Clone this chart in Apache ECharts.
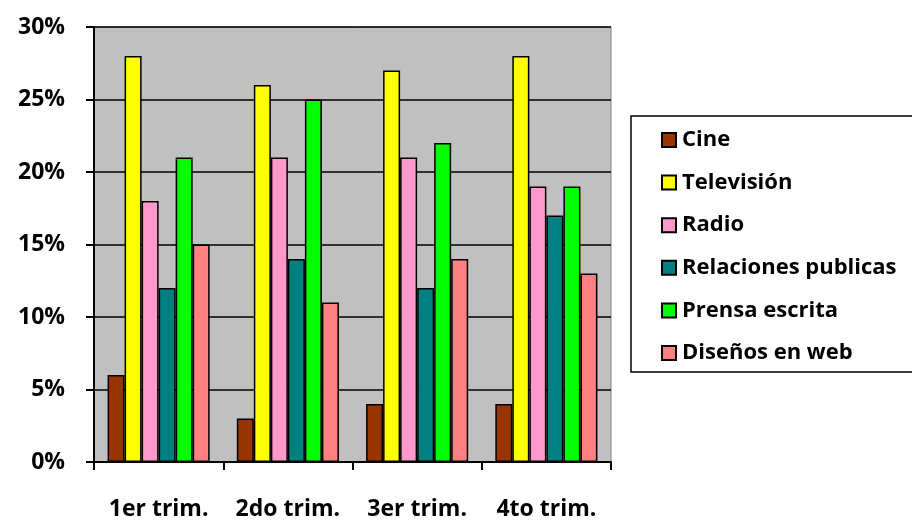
<!DOCTYPE html>
<html>
<head>
<meta charset="utf-8">
<script src="https://cdn.jsdelivr.net/npm/echarts@6/dist/echarts.min.js"></script>
<style>
  html, body { margin: 0; padding: 0; background: #fff; }
  #chart { width: 912px; height: 521px; }
</style>
</head>
<body>
<div id="chart"></div>
<script>
// Quarterly share of work by media area (percent)
const categories = ['1er trim.', '2do trim.', '3er trim.', '4to trim.'];
const cine = [6, 3, 4, 4];
const television = [28, 26, 27, 28];
const radio = [18, 21, 21, 19];
const relacionesPublicas = [12, 14, 12, 17];
const prensaEscrita = [21, 25, 22, 19];
const disenosWeb = [15, 11, 14, 13];
const yTicks = [0, 5, 10, 15, 20, 25, 30];

const seriesDefs = [
  { name: 'Cine', data: cine, color: '#993300' },
  { name: 'Televisión', data: television, color: '#FFFF00' },
  { name: 'Radio', data: radio, color: '#FF99CC' },
  { name: 'Relaciones publicas', data: relacionesPublicas, color: '#008080' },
  { name: 'Prensa escrita', data: prensaEscrita, color: '#00FF00' },
  { name: 'Diseños en web', data: disenosWeb, color: '#FF8080' }
];

const font = '"Open Sans", "DejaVu Sans", sans-serif';
const chart = echarts.init(document.getElementById('chart'));

chart.setOption({
  animation: false,
  backgroundColor: '#ffffff',
  grid: {
    left: 94, right: 301, top: 27, bottom: 59,
    show: true, backgroundColor: '#C0C0C0', borderColor: '#808080', borderWidth: 1
  },
  graphic: [{
    type: 'rect',
    shape: { x: 631, y: 116, width: 290, height: 256 },
    style: { fill: '#ffffff', stroke: '#000000', lineWidth: 1.5 },
    z: 0
  }],
  legend: {
    orient: 'vertical',
    left: 656, top: 124,
    icon: 'rect',
    itemWidth: 14, itemHeight: 14,
    itemGap: 20.6,
    textStyle: {
      fontFamily: font, fontWeight: 'bold', fontSize: 22, lineHeight: 22,
      color: '#000', padding: [0, 0, 0, 1]
    },
    data: seriesDefs.map(s => s.name),
    z: 5
  },
  xAxis: {
    type: 'category',
    data: categories,
    axisLine: { lineStyle: { color: '#000', width: 2 } },
    axisTick: { show: true, length: 8, lineStyle: { color: '#000', width: 2 } },
    axisLabel: {
      interval: 0, hideOverlap: false,
      fontFamily: font, fontWeight: 'bold', fontSize: 23, color: '#000', margin: 36
    }
  },
  yAxis: {
    type: 'value',
    min: yTicks[0], max: yTicks[yTicks.length - 1], interval: 5,
    axisLine: { show: true, lineStyle: { color: '#000', width: 2 } },
    axisTick: { show: true, length: 8, lineStyle: { color: '#000', width: 2 } },
    splitLine: { lineStyle: { color: '#000', width: 1.5 } },
    axisLabel: {
      fontFamily: font, fontWeight: 'bold', fontSize: 23, color: '#000', margin: 29,
      formatter: v => v + '%'
    }
  },
  series: seriesDefs.map(s => ({
    name: s.name,
    type: 'bar',
    data: s.data,
    barGap: '0%',
    barCategoryGap: '21%',
    itemStyle: { color: s.color, borderColor: '#000', borderWidth: 1.5 }
  }))
});
</script>
</body>
</html>
